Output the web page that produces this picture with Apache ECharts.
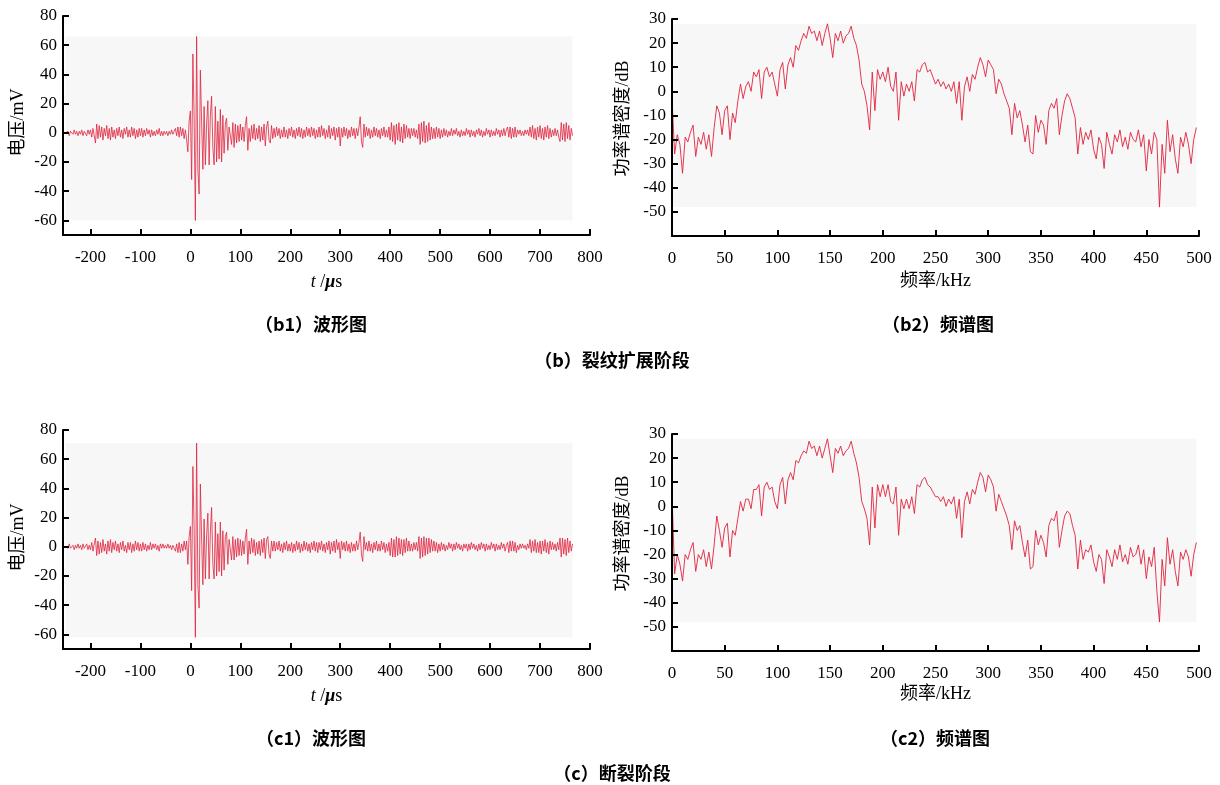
<!DOCTYPE html>
<html>
<head>
<meta charset="utf-8">
<script src="https://cdn.jsdelivr.net/npm/echarts@6/dist/echarts.min.js"></script>
<style>
  html, body { margin: 0; padding: 0; background: #fff; }
  #chart { width: 1220px; height: 785px; }
</style>
</head>
<body>
<div id="chart"></div>
<script>
// waveform samples: t = waveT0 + i * waveStep (us), one row = 50 us
const waveT0 = -250;
const waveStep = 2.5;

// (b1) crack propagation waveform, mV
const waveB = [
  0, -1, 1, -2, 1, 0, -1, 2, -1, 1, -2, 1, -1, 2, -2, 1, 0, -2, 2, -1,
  2, -3, 3, -2, -7, 6, -4, 5, -3, 4, -5, 3, -2, 5, -4, 3, -5, 4, -3, 2,
  -4, 3, -2, 4, -3, 2, -4, 3, -1, 4, -3, 2, -3, 4, -2, 3, -4, 2, -3, 3,
  -2, 3, -3, 2, -2, 3, -1, 2, -3, 2, -2, 1, -2, 2, -1, 3, -2, 1, -2, 1,
  -1, 1, -2, 1, -1, 2, -1, 1, 3, -2, 4, -3, 4, -2, 3, -4, 2, -5, -13, 8,
  15, -32, 54, 10, -60, 66, -25, -42, 43, 8, -25, 18, -22, 6, 22, -22, 12, 25, -10, -22,
  18, -20, 8, -18, 16, -20, 12, -14, 6, 10, -12, 4, 5, -8, 7, -10, 6, -7, 5, -6,
  6, -5, 4, -6, 5, 11, -12, 3, -6, 5, -4, 6, -5, 3, -4, 5, -6, 4, -5, 6,
  -9, 4, 8, -5, -7, 5, -4, 3, -3, 4, -2, 3, -4, 2, -3, 4, -3, 2, -4, 3,
  -2, 4, -3, 2, -4, 3, -2, 4, -3, 3, -4, 2, -3, 4, -2, 3, -3, 4, -2, 3,
  -4, 2, -3, 4, -3, 5, -2, 3, -4, 2, -3, 5, -4, 3, -2, 4, -5, 3, -3, 4,
  -9, 3, -3, 4, -2, 3, -4, 2, -3, 4, -2, 3, -4, 3, -2, 4, 11, -6, -10, 6,
  -3, 4, -2, 3, -4, 2, -3, 4, -2, 3, -3, 2, -4, 3, -2, 4, -3, 2, -3, 4,
  -5, 7, -6, 5, -8, 6, -5, 7, -6, 4, -7, 6, -4, 5, -3, 3, -4, 3, -2, 3,
  -3, 2, -4, 6, -8, 7, -6, 8, -7, 5, -6, 7, -5, 4, -4, 3, -4, 4, -3, 3,
  -4, 2, -3, 3, -2, 2, -3, 1, -2, 3, -2, 2, -1, 3, -2, 1, -3, 2, -2, 1,
  -2, 3, -1, 2, -3, 2, -2, 1, -3, 2, -1, 3, -2, 2, -3, 1, -2, 3, -1, 2,
  -3, 2, -2, 1, -2, 3, -1, 2, -3, 2, -2, 3, -2, 2, 4, -3, 4, -4, 3, -3,
  4, -3, 2, -1, 2, -2, 1, -2, 2, -1, 2, -2, 4, -3, 5, -4, 3, -5, 4, -3,
  5, -4, 3, -5, 4, -3, 5, -4, 3, -3, 2, -2, 3, -2, 2, -3, -6, 7, -5, 6,
  -6, 7, -4, 5, -5, 3, -2
];

// (c1) fracture waveform, mV
const waveC = [
  0, 1, -1, 2, -1, 0, 1, -2, 1, -1, 2, -1, 1, -2, 2, -1, 0, 2, -2, 1,
  -2, 3, -3, 2, 6, -6, 4, -5, 3, -4, 5, -3, 2, -5, 4, -3, 5, -4, 3, -2,
  4, -3, 2, -4, 3, -2, 4, -3, 1, -4, 3, -2, 3, -4, 2, -3, 4, -2, 3, -3,
  2, -3, 3, -2, 2, -3, 1, -2, 3, -2, 2, -1, 2, -2, 1, -3, 2, -1, 2, -1,
  1, -1, 2, -1, 1, -2, 1, -1, -3, 2, -4, 3, -4, 2, -3, 4, -2, 4, -12, 7,
  14, -30, 55, 12, -62, 71, -26, -42, 43, 6, -26, 19, -22, 8, 23, -22, 10, 27, -12, -22,
  17, -20, 9, -17, 17, -20, 11, -16, 7, 10, -12, 5, 6, -9, 7, -9, 5, -7, 6, -6,
  5, -6, 4, -5, 6, 12, -12, 4, -5, 6, -4, 5, -6, 3, -5, 4, -6, 5, -4, 6,
  -8, 5, 7, -5, -8, 4, -3, 4, -3, 3, -2, 4, -3, 2, -4, 3, -2, 4, -3, 2,
  -3, 3, -4, 2, -3, 4, -2, 3, -4, 2, -3, 4, -2, 3, -3, 2, -4, 3, -2, 4,
  -3, 3, -4, 3, -2, 4, -3, 2, -4, 3, -2, 4, -5, 3, -3, 4, -4, 5, -2, 3,
  -8, 4, -2, 3, -3, 4, -3, 2, -4, 3, -3, 2, -3, 4, -2, 3, 10, -5, -10, 7,
  -2, 3, -3, 4, -3, 2, -4, 3, -2, 4, -3, 2, -3, 4, -2, 3, -4, 2, -3, 3,
  -6, 6, -7, 5, -7, 7, -6, 6, -5, 5, -6, 5, -4, 6, -3, 4, -3, 2, -3, 3,
  -2, 3, -3, 7, -8, 6, -7, 7, -6, 6, -5, 6, -4, 5, -3, 4, -3, 3, -4, 2,
  -3, 3, -2, 2, -3, 1, -2, 3, -1, 2, -3, 2, -2, 3, -1, 2, -2, 1, -3, 2,
  -1, 2, -3, 2, -2, 3, -1, 2, -2, 1, -3, 2, -2, 3, -1, 2, -3, 2, -2, 1,
  -2, 3, -1, 2, -3, 2, -2, 1, -2, 3, -1, 2, -3, 1, 3, -4, 4, -3, 4, -3,
  3, -4, 1, -2, 2, -1, 2, -1, 1, -2, 2, -1, 5, -4, 4, -3, 5, -4, 3, -4,
  4, -5, 4, -3, 5, -4, 3, -5, 4, -2, 3, -2, 2, -3, 3, -2, 6, -7, 6, -5,
  5, -6, 6, -4, 4, -3, 2
];

// spectrum samples: f = i * specStep (kHz), one row = 50 kHz
const specStep = 2.5;

// (b2) power spectral density, dB
const specB = [
  -3, -26, -18, -22, -34, -19, -21, -17, -14, -27, -19, -22, -17, -24, -18, -27, -15, -6, -9, -18,
  -8, -6, -20, -9, -13, -4, 3, -3, 2, 4, 0, 8, 6, 9, -3, 8, 10, 6, 8, 3,
  -2, 9, 12, 1, 11, 14, 10, 19, 17, 21, 24, 22, 27, 24, 25, 21, 25, 19, 24, 28,
  22, 14, 24, 21, 25, 20, 23, 24, 27, 22, 19, 13, 3, 0, -6, -16, 8, -8, 9, 5,
  8, 4, 10, 2, 0, 8, -12, 4, -2, 3, 0, 4, -4, 9, 8, 11, 12, 8, 9, 6,
  3, 5, 2, 4, 1, 3, 0, 4, -5, 4, -12, 2, 6, 0, 7, 5, 10, 14, 11, 6,
  13, 11, 9, -1, 5, 3, -1, -4, -7, -18, -5, -11, -8, -14, -21, -14, -25, -26, -10, -17,
  -12, -14, -22, -8, -5, -7, -3, -18, -10, -4, -1, -3, -7, -11, -26, -15, -22, -17, -20, -16,
  -24, -28, -19, -22, -32, -17, -22, -26, -18, -21, -16, -23, -19, -24, -17, -20, -21, -16, -23, -18,
  -33, -20, -26, -17, -20, -48, -22, -34, -12, -25, -18, -28, -34, -19, -23, -17, -22, -30, -20, -15
];

// (c2) power spectral density, dB
const specC = [
  5, -28, -20, -24, -31, -20, -22, -18, -15, -27, -20, -22, -18, -25, -19, -26, -16, -4, -10, -17,
  -9, -7, -21, -10, -12, -5, 2, -2, 3, 3, -1, 7, 7, 9, -4, 8, 10, 7, 8, 2,
  -1, 9, 12, 1, 11, 14, 11, 19, 18, 21, 23, 22, 27, 24, 25, 21, 25, 20, 24, 28,
  21, 14, 24, 22, 25, 21, 23, 24, 27, 22, 18, 12, 2, -1, -5, -16, 8, -9, 9, 4,
  9, 4, 9, 2, 1, 8, -12, 3, -1, 3, -1, 4, -3, 9, 8, 11, 12, 9, 8, 6,
  4, 4, 2, 4, 0, 3, 1, 4, -5, 3, -13, 2, 6, 1, 7, 5, 10, 14, 12, 6,
  13, 11, 8, -2, 5, 2, -1, -4, -8, -18, -6, -10, -8, -15, -21, -14, -26, -25, -10, -16,
  -12, -15, -21, -8, -5, -6, -2, -17, -10, -4, -2, -3, -8, -12, -26, -14, -22, -18, -19, -16,
  -23, -27, -20, -22, -32, -18, -21, -25, -18, -22, -16, -23, -20, -24, -17, -21, -20, -16, -24, -18,
  -30, -21, -25, -17, -35, -48, -22, -33, -13, -24, -18, -27, -33, -19, -22, -18, -21, -29, -20, -15
];

// tick labels
const timeTicks = [-200, -100, 0, 100, 200, 300, 400, 500, 600, 700, 800];
const voltTicks = [-60, -40, -20, 0, 20, 40, 60, 80];
const freqTicks = [0, 50, 100, 150, 200, 250, 300, 350, 400, 450, 500];
const dbTicks = [-50, -40, -30, -20, -10, 0, 10, 20, 30];

const captions = ["（b1）波形图", "（b2）频谱图", "（b）裂纹扩展阶段", "（c1）波形图", "（c2）频谱图", "（c）断裂阶段"];

const serif = "'Liberation Serif', 'Times New Roman', serif";
const mixed = "'Liberation Serif', 'Noto Sans CJK SC', serif";
const lineColor = "#e0233d";

const toPairs = (x0, step, vals) => vals.map((v, i) => [x0 + i * step, v]);

// axis helpers
const axisBase = (ticks) => ({
  z: 5,
  splitLine: { show: false },
  axisLine: { show: true, onZero: false, lineStyle: { color: "#000", width: 2 } },
  axisTick: { show: true, inside: true, length: 6, customValues: ticks, lineStyle: { color: "#000", width: 2 } },
  axisLabel: { customValues: ticks, color: "#000", fontFamily: serif, fontSize: 17 },
});

const makeX = (gi, min, max, ticks, name, gap, rich) => {
  const ax = axisBase(ticks);
  ax.axisLabel.margin = 14;
  return Object.assign(ax, {
    type: "value", gridIndex: gi, min, max,
    name, nameLocation: "middle", nameGap: gap,
    nameTextStyle: { color: "#000", fontFamily: mixed, fontSize: 18, rich: rich || {} },
  });
};

const makeY = (gi, min, max, ticks, name, gap, shift) => {
  const ax = axisBase(ticks);
  ax.axisLabel.margin = 6;
  return Object.assign(ax, {
    type: "value", gridIndex: gi, min, max,
    name, nameLocation: "middle", nameGap: gap,
    nameTextStyle: { color: "#000", fontFamily: mixed, fontSize: 18, padding: [0, 0, 0, shift] },
  });
};

const tRich = {
  it: { fontStyle: "italic", fontFamily: serif, fontSize: 18, color: "#000" },
  mu: { fontStyle: "italic", fontWeight: "bold", fontFamily: serif, fontSize: 18, color: "#000" },
};
const tName = "{it|t} /{mu|μ}s";

// grey panel behind each trace, spanning the data extent
const panel = (gi, pts) => {
  const xs = pts.map((p) => p[0]), ys = pts.map((p) => p[1]);
  return {
    type: "line", xAxisIndex: gi, yAxisIndex: gi, data: [], z: 1, silent: true,
    markArea: {
      silent: true,
      itemStyle: { color: "#f7f7f7" },
      data: [[{ coord: [Math.min(...xs), Math.max(...ys)] }, { coord: [Math.max(...xs), Math.min(...ys)] }]],
    },
  };
};

const trace = (gi, pts, w) => ({
  type: "line", xAxisIndex: gi, yAxisIndex: gi, data: pts, z: 3,
  showSymbol: false, symbol: "none", silent: true,
  lineStyle: { color: lineColor, width: w },
});

const ptsB1 = toPairs(waveT0, waveStep, waveB);
const ptsB2 = toPairs(0, specStep, specB);
const ptsC1 = toPairs(waveT0, waveStep, waveC);
const ptsC2 = toPairs(0, specStep, specC);

const captionText = (text, x, y) => ({
  type: "text", x, y, silent: true,
  style: { text, fill: "#000", font: "bold 18px 'Noto Sans CJK SC'", align: "center", verticalAlign: "middle" },
});

const chart = echarts.init(document.getElementById("chart"), null, { renderer: "canvas" });

chart.setOption({
  animation: false,
  backgroundColor: "#fff",
  grid: [
    { left: 63, top: 16, width: 527, height: 219, containLabel: false, outerBoundsMode: "none" },
    { left: 672, top: 19, width: 527, height: 217, containLabel: false, outerBoundsMode: "none" },
    { left: 63, top: 430, width: 527, height: 219, containLabel: false, outerBoundsMode: "none" },
    { left: 672, top: 434, width: 527, height: 217, containLabel: false, outerBoundsMode: "none" },
  ],
  xAxis: [
    makeX(0, -255, 800, timeTicks, tName, 38, tRich),
    makeX(1, 0, 500, freqTicks, "频率/kHz", 36),
    makeX(2, -255, 800, timeTicks, tName, 38, tRich),
    makeX(3, 0, 500, freqTicks, "频率/kHz", 34),
  ],
  yAxis: [
    makeY(0, -70, 80, voltTicks, "电压/mV", 36, 6),
    makeY(1, -60, 30, dbTicks, "功率谱密度/dB", 40, 18),
    makeY(2, -70, 80, voltTicks, "电压/mV", 36, 4),
    makeY(3, -60, 30, dbTicks, "功率谱密度/dB", 40, 18),
  ],
  series: [
    panel(0, ptsB1), trace(0, ptsB1, 0.8),
    panel(1, ptsB2), trace(1, ptsB2, 0.9),
    panel(2, ptsC1), trace(2, ptsC1, 0.8),
    panel(3, ptsC2), trace(3, ptsC2, 0.9),
  ],
  graphic: [
    captionText(captions[0], 311, 324),
    captionText(captions[1], 938, 324),
    captionText(captions[2], 612, 360),
    captionText(captions[3], 311, 738),
    captionText(captions[4], 935, 738),
    captionText(captions[5], 612, 773),
  ],
});
</script>
</body>
</html>
